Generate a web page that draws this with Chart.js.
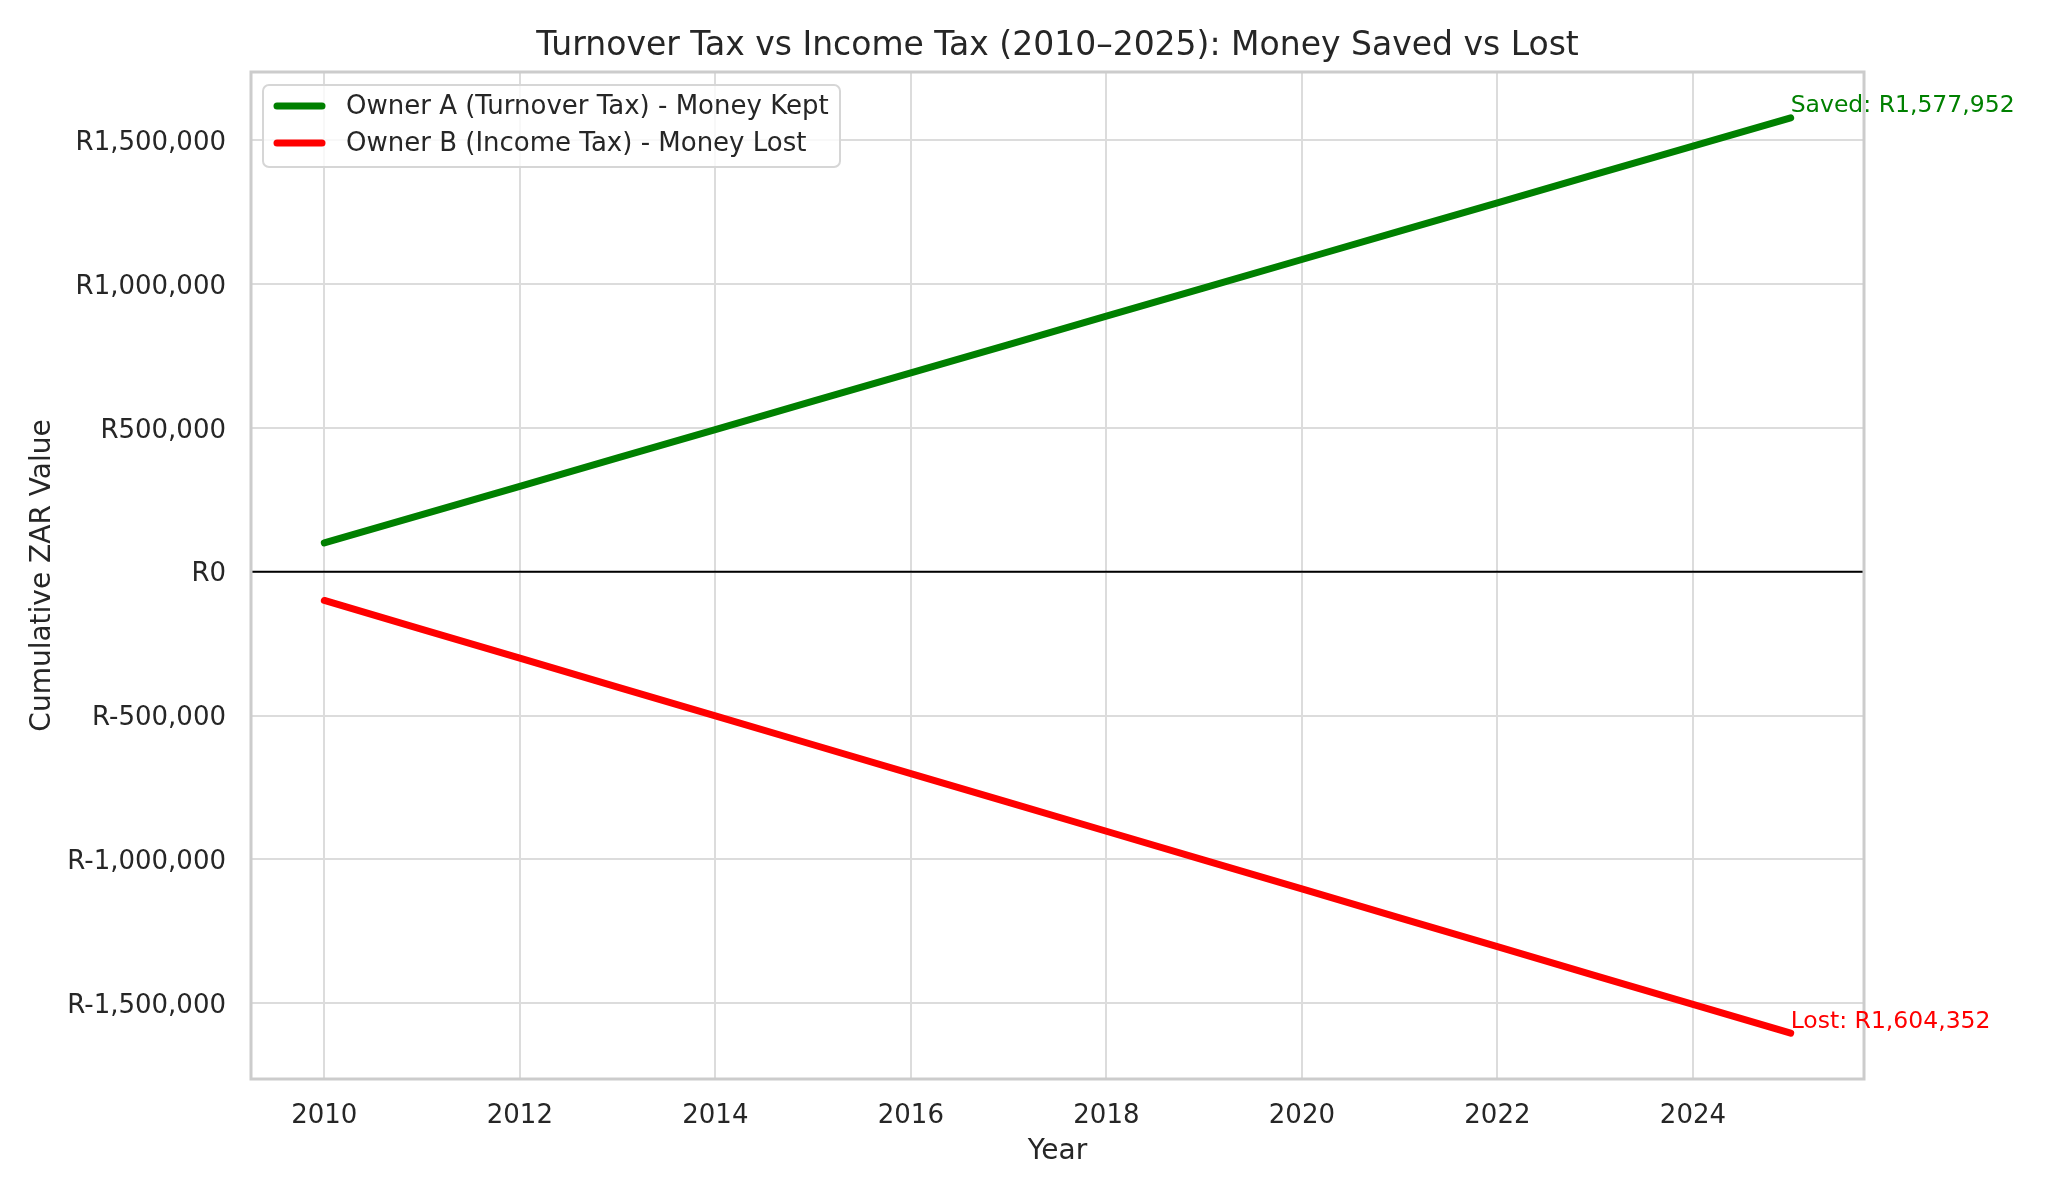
<!DOCTYPE html>
<html>
<head>
<meta charset="utf-8">
<script src="https://cdn.jsdelivr.net/npm/chart.js@4.4.1/dist/chart.umd.min.js"></script>
<style>
  html, body { margin: 0; padding: 0; background: #fff; }
  #wrap { width: 2048px; height: 1194px; }
</style>
</head>
<body>
<div id="wrap"><canvas id="taxChart" width="2048" height="1194"></canvas></div>
<script>
// values
const years = [2010, 2011, 2012, 2013, 2014, 2015, 2016, 2017, 2018, 2019, 2020, 2021, 2022, 2023, 2024, 2025];
const moneyKept = [100000, 198500, 297000, 395600, 494100, 592700, 691200, 789700, 888200, 986800, 1085300, 1183800, 1282400, 1380900, 1479400, 1577952];
const moneyLost = [-100000, -200300, -300600, -400900, -501200, -601500, -701700, -802000, -902300, -1002600, -1102900, -1203200, -1303500, -1403800, -1504100, -1604352];
const xTicks = [2010, 2012, 2014, 2016, 2018, 2020, 2022, 2024];
const yTicks = [-1500000, -1000000, -500000, 0, 500000, 1000000, 1500000];
const labelKept = 'Owner A (Turnover Tax) - Money Kept';
const labelLost = 'Owner B (Income Tax) - Money Lost';
const chartTitle = 'Turnover Tax vs Income Tax (2010–2025): Money Saved vs Lost';

const FONT = "'DejaVu Sans', 'Liberation Sans', sans-serif";
const TEXT = '#262626';
const GREEN = '#008000';
const RED = '#ff0000';

function rand(v) {
    return 'R' + Math.round(v).toLocaleString('en-US');
}

// white page, title over the axes, frame and the zero line
const framePlugin = {
    id: 'frame',
    beforeDraw(chart) {
        const c = chart.ctx;
        const a = chart.chartArea;
        c.save();
        c.fillStyle = '#fff';
        c.fillRect(0, 0, chart.width, chart.height);
        c.fillStyle = TEXT;
        c.font = '33px ' + FONT;
        c.textAlign = 'center';
        c.textBaseline = 'middle';
        c.fillText(chartTitle, (a.left + a.right) / 2, 46);
        c.restore();
    },
    beforeDatasetsDraw(chart) {
        const c = chart.ctx;
        const a = chart.chartArea;
        const y0 = chart.scales.y.getPixelForValue(0);
        c.save();
        c.strokeStyle = '#000';
        c.lineWidth = 2;
        c.beginPath();
        c.moveTo(a.left, y0);
        c.lineTo(a.right, y0);
        c.stroke();
        c.strokeStyle = '#cccccc';
        c.lineWidth = 3;
        c.strokeRect(a.left, a.top, a.right - a.left, a.bottom - a.top);
        c.restore();
    }
};

// end labels and the legend box in the upper left
const notesPlugin = {
    id: 'notes',
    afterDatasetsDraw(chart) {
        const c = chart.ctx;
        c.save();
        c.font = '23.5px ' + FONT;
        c.textAlign = 'left';
        c.textBaseline = 'alphabetic';

        const kept = chart.getDatasetMeta(0).data;
        const lost = chart.getDatasetMeta(1).data;
        const pk = kept[kept.length - 1];
        const pl = lost[lost.length - 1];
        c.fillStyle = GREEN;
        c.fillText('Saved: ' + rand(moneyKept[moneyKept.length - 1]), pk.x, pk.y - 6);
        c.fillStyle = RED;
        c.fillText('Lost: ' + rand(-moneyLost[moneyLost.length - 1]), pl.x, pl.y - 5);

        // legend
        const a = chart.chartArea;
        const bx = a.left + 12, by = a.top + 13, bw = 577, bh = 82;
        c.beginPath();
        c.roundRect(bx, by, bw, bh, 6);
        c.fillStyle = 'rgba(255,255,255,0.8)';
        c.fill();
        c.strokeStyle = '#d6d6d6';
        c.lineWidth = 2;
        c.stroke();

        const rows = [[labelKept, GREEN, by + 21], [labelLost, RED, by + 58]];
        c.font = '26px ' + FONT;
        c.textBaseline = 'middle';
        rows.forEach(([txt, col, ry]) => {
            c.strokeStyle = col;
            c.lineWidth = 7;
            c.lineCap = 'round';
            c.beginPath();
            c.moveTo(bx + 14, ry);
            c.lineTo(bx + 59, ry);
            c.stroke();
            c.fillStyle = TEXT;
            c.fillText(txt, bx + 83, ry + 1);
        });
        c.restore();
    }
};

const ctx = document.getElementById('taxChart').getContext('2d');

new Chart(ctx, {
    type: 'line',
    data: {
        datasets: [
            {
                label: labelKept,
                data: years.map((yr, i) => ({ x: yr, y: moneyKept[i] })),
                borderColor: GREEN,
                borderWidth: 7,
                borderCapStyle: 'round',
                pointRadius: 0,
                tension: 0
            },
            {
                label: labelLost,
                data: years.map((yr, i) => ({ x: yr, y: moneyLost[i] })),
                borderColor: RED,
                borderWidth: 7,
                borderCapStyle: 'round',
                pointRadius: 0,
                tension: 0
            }
        ]
    },
    options: {
        responsive: false,
        animation: false,
        devicePixelRatio: 1,
        layout: { padding: { left: 0, right: 184, top: 72, bottom: 0 } },
        plugins: {
            legend: { display: false },
            tooltip: { enabled: false },
            title: { display: false }
        },
        scales: {
            x: {
                type: 'linear',
                min: 2009.25,
                max: 2025.75,
                afterBuildTicks: s => { s.ticks = xTicks.map(v => ({ value: v })); },
                afterFit: s => { s.height = 115; },
                border: { display: false },
                grid: { color: '#dcdcdc', lineWidth: 2, drawTicks: false },
                ticks: {
                    color: TEXT,
                    padding: 22,
                    font: { family: FONT, size: 26 },
                    callback: v => String(v)
                },
                title: {
                    display: true,
                    text: 'Year',
                    color: TEXT,
                    font: { family: FONT, size: 28 },
                    padding: { top: 0, bottom: 25 }
                }
            },
            y: {
                min: -1763467,
                max: 1737067,
                afterBuildTicks: s => { s.ticks = yTicks.map(v => ({ value: v })); },
                afterFit: s => { s.width = 251; },
                border: { display: false },
                grid: { color: '#dcdcdc', lineWidth: 2, drawTicks: false },
                ticks: {
                    color: TEXT,
                    padding: 25,
                    labelOffset: 3,
                    font: { family: FONT, size: 26 },
                    callback: v => rand(v)
                },
                title: {
                    display: true,
                    text: 'Cumulative ZAR Value',
                    color: TEXT,
                    font: { family: FONT, size: 28 },
                    padding: { top: 26, bottom: 0 }
                }
            }
        }
    },
    plugins: [framePlugin, notesPlugin]
});
</script>
</body>
</html>
